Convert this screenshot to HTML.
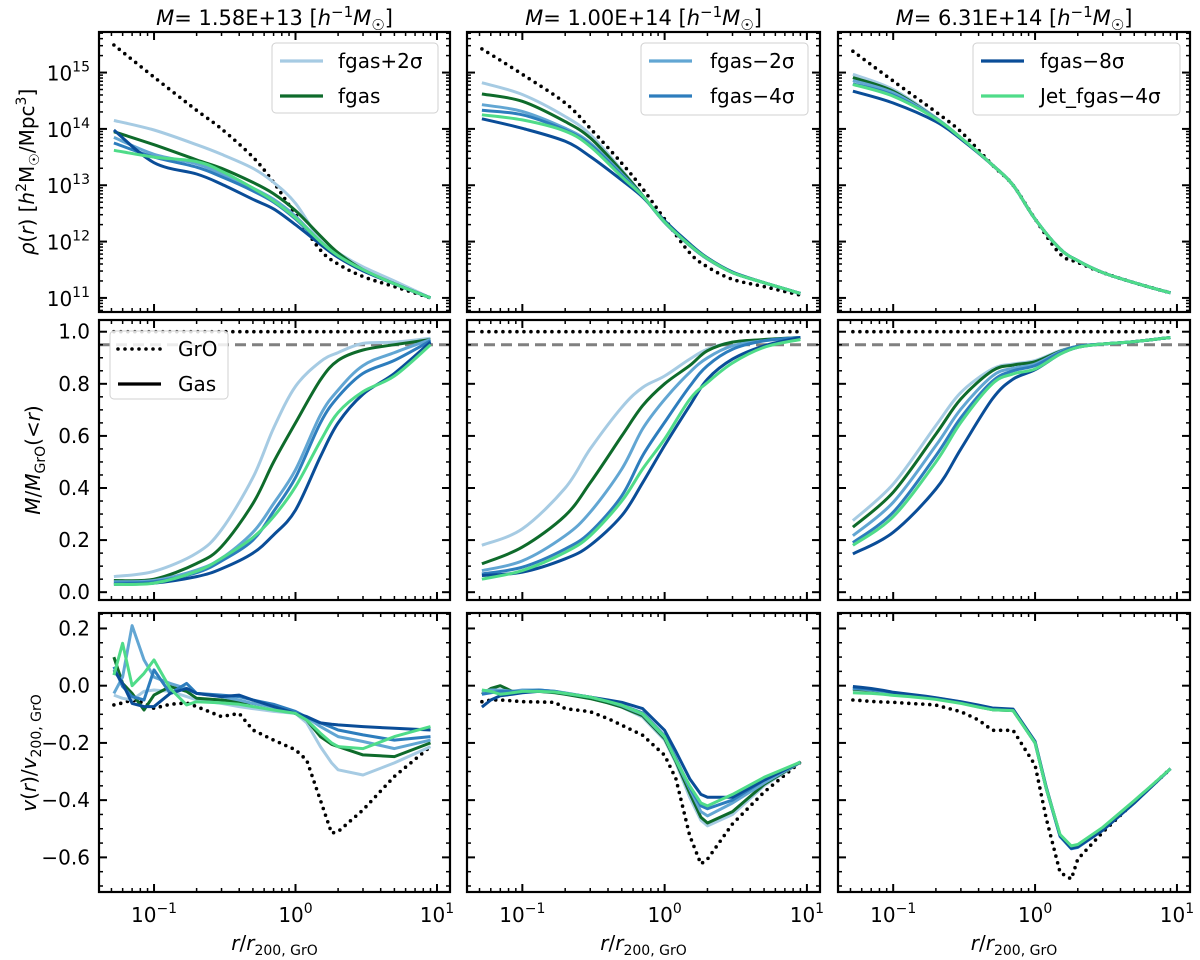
<!DOCTYPE html>
<html><head><meta charset="utf-8"><title>Profiles</title>
<style>
html,body{margin:0;padding:0;background:#fff;}
svg{display:block;font-family:"DejaVu Sans","Liberation Sans",sans-serif;}
</style></head>
<body>
<svg id="chart" width="1200" height="960" viewBox="0 0 1200 960" xmlns="http://www.w3.org/2000/svg"></svg>
<script>
// ---------- DATA ----------
const SERIES = ["fgas+2σ","fgas","fgas−2σ","fgas−4σ","fgas−8σ","Jet_fgas−4σ"];
const MASS_TITLES = ["1.58E+13","1.00E+14","6.31E+14"];
const R_SMOOTH = [0.052,0.1,0.2,0.3,0.5,0.7,1,1.5,2,3,5,9];
const R_VEL = [0.052,0.06,0.07,0.085,0.1,0.13,0.17,0.2,0.3,0.4,0.5,0.7,1,1.2,1.5,1.8,2,3,5,9];

// row 1: log10 density
const logRhoLow = [
 [14.15,13.98,13.72,13.55,13.3,13.05,12.68,12.02,11.8,11.55,11.3,11.0],
 [13.95,13.72,13.45,13.3,13.05,12.85,12.55,12.1,11.8,11.5,11.25,11.0],
 [13.85,13.55,13.38,13.2,12.95,12.75,12.45,12.0,11.75,11.5,11.25,11.0],
 [13.75,13.5,13.32,13.15,12.9,12.7,12.4,11.98,11.74,11.49,11.25,11.0],
 [13.98,13.4,13.2,13.02,12.75,12.58,12.3,11.95,11.72,11.48,11.25,11.0],
 [13.62,13.5,13.42,13.25,12.95,12.72,12.42,12.0,11.75,11.5,11.25,11.0]];
const logRhoLowGrO = [15.49,14.92,14.33,14.0,13.5,13.05,12.48,11.85,11.6,11.38,11.2,11.0];
const logRhoMid = [
 [14.82,14.61,14.22,13.9,13.27,12.82,12.34,11.93,11.69,11.45,11.27,11.08],
 [14.62,14.49,14.13,13.84,13.25,12.82,12.34,11.93,11.69,11.45,11.27,11.08],
 [14.43,14.31,14.01,13.75,13.2,12.81,12.34,11.93,11.69,11.45,11.27,11.08],
 [14.33,14.25,13.98,13.72,13.18,12.81,12.35,11.94,11.7,11.45,11.27,11.08],
 [14.18,14.01,13.78,13.51,13.09,12.79,12.37,11.96,11.71,11.46,11.27,11.08],
 [14.25,14.16,13.96,13.69,13.15,12.81,12.35,11.94,11.7,11.45,11.27,11.08]];
const logRhoMidGrO = [15.42,14.97,14.46,14.01,13.39,12.94,12.4,11.8,11.55,11.33,11.2,11.05];
const logRhoHigh = [
 [14.97,14.70,14.2,13.84,13.36,13.0,12.4,11.87,11.66,11.45,11.27,11.09],
 [14.91,14.67,14.19,13.84,13.36,13.0,12.4,11.87,11.66,11.45,11.27,11.09],
 [14.86,14.64,14.19,13.84,13.36,13.0,12.4,11.87,11.66,11.45,11.27,11.09],
 [14.8,14.6,14.18,13.84,13.36,13.0,12.4,11.87,11.66,11.45,11.27,11.09],
 [14.67,14.46,14.13,13.82,13.36,13.0,12.4,11.87,11.66,11.45,11.27,11.09],
 [14.79,14.58,14.18,13.84,13.36,13.0,12.4,11.87,11.66,11.45,11.27,11.09]];
const logRhoHighGrO = [15.38,14.85,14.3,13.95,13.36,13.0,12.4,11.78,11.63,11.45,11.27,11.09];

// row 2: enclosed mass fraction
const massLow = [
 [0.06,0.08,0.15,0.24,0.44,0.63,0.79,0.885,0.92,0.955,0.96,0.975],
 [0.045,0.05,0.11,0.175,0.34,0.50,0.65,0.815,0.89,0.93,0.95,0.97],
 [0.04,0.045,0.085,0.13,0.23,0.34,0.47,0.68,0.776,0.87,0.92,0.97],
 [0.035,0.04,0.075,0.12,0.20,0.31,0.44,0.65,0.75,0.84,0.89,0.965],
 [0.03,0.035,0.06,0.09,0.15,0.22,0.315,0.52,0.65,0.76,0.84,0.96],
 [0.03,0.035,0.08,0.13,0.21,0.29,0.405,0.58,0.69,0.77,0.83,0.95]];
const massMid = [
 [0.18,0.243,0.40,0.55,0.71,0.786,0.83,0.895,0.933,0.96,0.97,0.978],
 [0.109,0.173,0.294,0.42,0.60,0.716,0.80,0.87,0.927,0.96,0.97,0.978],
 [0.083,0.12,0.217,0.307,0.473,0.627,0.74,0.844,0.90,0.946,0.965,0.978],
 [0.07,0.096,0.166,0.23,0.37,0.524,0.652,0.79,0.87,0.933,0.965,0.978],
 [0.064,0.077,0.128,0.18,0.294,0.42,0.563,0.716,0.818,0.895,0.946,0.978],
 [0.05,0.083,0.153,0.217,0.35,0.473,0.588,0.74,0.805,0.88,0.94,0.97]];
const massHigh = [
 [0.275,0.415,0.64,0.767,0.857,0.876,0.889,0.927,0.944,0.953,0.962,0.978],
 [0.25,0.384,0.607,0.742,0.85,0.872,0.885,0.925,0.944,0.953,0.962,0.978],
 [0.217,0.345,0.563,0.703,0.83,0.86,0.876,0.923,0.944,0.953,0.962,0.978],
 [0.19,0.307,0.524,0.67,0.81,0.85,0.87,0.92,0.944,0.953,0.962,0.978],
 [0.147,0.23,0.396,0.55,0.742,0.818,0.854,0.914,0.94,0.953,0.962,0.978],
 [0.18,0.29,0.5,0.652,0.80,0.838,0.857,0.914,0.94,0.953,0.962,0.978]];
const massGrO = [1.0,1.0];
const massThreshold = 0.95;

// row 3: radial velocity
const velLow = [
 [-0.033,-0.044,-0.05,-0.02,-0.015,-0.02,-0.038,-0.05,-0.062,-0.073,-0.08,-0.09,-0.097,-0.13,-0.213,-0.27,-0.294,-0.312,-0.27,-0.213],
 [0.1,0.008,-0.027,-0.085,-0.033,-0.003,-0.02,-0.044,-0.05,-0.056,-0.062,-0.073,-0.097,-0.12,-0.178,-0.205,-0.213,-0.242,-0.248,-0.2],
 [-0.027,0.03,0.21,0.09,0.03,0.008,-0.01,-0.027,-0.038,-0.05,-0.062,-0.075,-0.097,-0.11,-0.143,-0.165,-0.178,-0.195,-0.22,-0.19],
 [0.066,-0.003,-0.038,-0.05,0.055,-0.027,0.008,-0.027,-0.033,-0.038,-0.05,-0.065,-0.09,-0.11,-0.13,-0.145,-0.155,-0.172,-0.19,-0.178],
 [0.055,0.008,-0.062,-0.073,-0.073,-0.027,-0.01,-0.027,-0.038,-0.033,-0.05,-0.073,-0.097,-0.108,-0.13,-0.135,-0.137,-0.143,-0.149,-0.155],
 [0.037,0.148,0.0,0.043,0.09,-0.01,-0.067,-0.056,-0.06,-0.065,-0.073,-0.085,-0.097,-0.12,-0.166,-0.2,-0.213,-0.22,-0.178,-0.143]];
const velLowGrO = [-0.067,-0.06,-0.05,-0.06,-0.079,-0.065,-0.06,-0.073,-0.108,-0.097,-0.155,-0.19,-0.224,-0.26,-0.4,-0.515,-0.51,-0.434,-0.317,-0.213];
const velMid = [
 [-0.02,-0.02,-0.015,-0.02,-0.02,-0.015,-0.02,-0.027,-0.04,-0.06,-0.075,-0.11,-0.19,-0.27,-0.39,-0.47,-0.49,-0.45,-0.35,-0.267],
 [-0.03,-0.01,0.0,-0.02,-0.02,-0.02,-0.025,-0.03,-0.045,-0.06,-0.075,-0.105,-0.185,-0.265,-0.375,-0.46,-0.48,-0.44,-0.345,-0.267],
 [-0.02,-0.015,-0.015,-0.02,-0.015,-0.015,-0.02,-0.025,-0.04,-0.055,-0.07,-0.1,-0.18,-0.26,-0.36,-0.44,-0.455,-0.41,-0.34,-0.267],
 [-0.03,-0.025,-0.02,-0.02,-0.02,-0.015,-0.02,-0.027,-0.04,-0.055,-0.068,-0.095,-0.175,-0.255,-0.355,-0.42,-0.43,-0.40,-0.33,-0.267],
 [-0.075,-0.05,-0.035,-0.03,-0.025,-0.02,-0.022,-0.027,-0.04,-0.05,-0.058,-0.08,-0.156,-0.23,-0.325,-0.38,-0.39,-0.39,-0.33,-0.267],
 [-0.015,-0.02,-0.03,-0.025,-0.02,-0.02,-0.022,-0.027,-0.04,-0.055,-0.068,-0.098,-0.178,-0.26,-0.35,-0.41,-0.42,-0.38,-0.32,-0.267]];
const velMidGrO = [-0.056,-0.05,-0.05,-0.053,-0.056,-0.057,-0.058,-0.08,-0.091,-0.115,-0.138,-0.173,-0.243,-0.325,-0.524,-0.623,-0.606,-0.483,-0.372,-0.267];
const velHigh = [
 [-0.015,-0.016,-0.018,-0.022,-0.028,-0.034,-0.04,-0.044,-0.058,-0.072,-0.082,-0.085,-0.2,-0.36,-0.524,-0.565,-0.56,-0.5,-0.407,-0.29],
 [-0.012,-0.014,-0.016,-0.021,-0.028,-0.034,-0.041,-0.045,-0.06,-0.074,-0.084,-0.087,-0.2,-0.36,-0.524,-0.565,-0.56,-0.5,-0.407,-0.29],
 [-0.01,-0.012,-0.015,-0.02,-0.027,-0.033,-0.04,-0.044,-0.058,-0.072,-0.082,-0.085,-0.2,-0.36,-0.527,-0.568,-0.562,-0.5,-0.407,-0.29],
 [-0.008,-0.01,-0.013,-0.018,-0.025,-0.032,-0.039,-0.043,-0.057,-0.071,-0.081,-0.084,-0.2,-0.36,-0.527,-0.57,-0.565,-0.505,-0.41,-0.29],
 [-0.003,-0.006,-0.01,-0.016,-0.023,-0.03,-0.037,-0.042,-0.056,-0.068,-0.078,-0.082,-0.195,-0.355,-0.524,-0.568,-0.563,-0.505,-0.41,-0.29],
 [-0.025,-0.026,-0.027,-0.03,-0.034,-0.038,-0.044,-0.048,-0.062,-0.075,-0.084,-0.087,-0.2,-0.36,-0.52,-0.56,-0.555,-0.495,-0.402,-0.29]];
const velHighGrO = [-0.05,-0.052,-0.055,-0.057,-0.058,-0.062,-0.065,-0.068,-0.091,-0.12,-0.156,-0.156,-0.278,-0.465,-0.653,-0.676,-0.606,-0.512,-0.407,-0.29];

const X_TICK_EXP = ["−1","0","1"];
const RHO_TICK_EXP = [11,12,13,14,15];
const MASS_TICKS = [0.0,0.2,0.4,0.6,0.8,1.0];
const VEL_TICKS = [0.2,0.0,-0.2,-0.4,-0.6];

// ---------- STYLE / LAYOUT ----------
const COLORS = ["#a6cbe3","#0e6b2b","#62a6d3","#2d7dbd","#0a4d98","#4fdc89"];
const DRAW_ORDER = [0,1,2,3,4,5];
const COLS = [{x0:99,x1:450},{x0:467,x1:820},{x0:838,x1:1190}];
const ROWS = [{y0:32,y1:312},{y0:320,y1:600},{y0:613,y1:892}];
const XLOG = [-1.389, 1.092];
const YDOM = [[10.75,15.72],[-0.03,1.045],[-0.721,0.254]];
const NS = "http://www.w3.org/2000/svg";
const svg = document.getElementById("chart");

function mk(tag, attrs, parent){
  const e = document.createElementNS(NS, tag);
  for (const k in attrs) e.setAttribute(k, attrs[k]);
  (parent||svg).appendChild(e);
  return e;
}
function xs(ci, r){ const c=COLS[ci]; return c.x0 + (Math.log10(r)-XLOG[0])/(XLOG[1]-XLOG[0])*(c.x1-c.x0); }
function ys(ri, v){ const r=ROWS[ri], d=YDOM[ri]; return r.y1 - (v-d[0])/(d[1]-d[0])*(r.y1-r.y0); }

function smoothPath(pts){
  let d = "M"+pts[0][0].toFixed(1)+","+pts[0][1].toFixed(1);
  for (let i=0;i<pts.length-1;i++){
    const p0=pts[Math.max(0,i-1)], p1=pts[i], p2=pts[i+1], p3=pts[Math.min(pts.length-1,i+2)];
    const c1=[p1[0]+(p2[0]-p0[0])/6, p1[1]+(p2[1]-p0[1])/6];
    const c2=[p2[0]-(p3[0]-p1[0])/6, p2[1]-(p3[1]-p1[1])/6];
    d += " C"+c1[0].toFixed(1)+","+c1[1].toFixed(1)+" "+c2[0].toFixed(1)+","+c2[1].toFixed(1)+" "+p2[0].toFixed(1)+","+p2[1].toFixed(1);
  }
  return d;
}
function linePath(pts){ return pts.map((p,i)=>(i?"L":"M")+p[0].toFixed(1)+","+p[1].toFixed(1)).join(" "); }

function drawSeries(g, ci, ri, R, vals, color, smooth, dotted, name){
  const pts = R.map((r,i)=>[xs(ci,r), ys(ri,vals[i])]);
  const attrs = {d: smooth?smoothPath(pts):linePath(pts), fill:"none", stroke:color, "stroke-width": dotted?3.6:3, "stroke-linejoin":"round"};
  if (dotted){ attrs["stroke-dasharray"]="0 7"; attrs["stroke-linecap"]="round"; }
  const p = mk("path", attrs, g);
  
  
}

function drawFrameAndTicks(ci, ri){
  const c=COLS[ci], r=ROWS[ri];
  const g = mk("g", {});
  
  
  for (let e=-2;e<=1;e++){
    for (let k=1;k<=9;k++){
      const v = Math.log10(k)+e;
      if (v<XLOG[0]||v>XLOG[1]) continue;
      const x = xs(ci, Math.pow(10,v)), L = k===1?8:4, w = k===1?2:1.5;
      mk("line",{x1:x,x2:x,y1:r.y1,y2:r.y1-L,stroke:"#000","stroke-width":w},g);
      mk("line",{x1:x,x2:x,y1:r.y0,y2:r.y0+L,stroke:"#000","stroke-width":w},g);
    }
  }
  const d=YDOM[ri];
  const yt=[];
  if (ri===0){
    for (let e=10;e<=15;e++) for (let k=1;k<=9;k++){ const v=Math.log10(k)+e; if(v>=d[0]&&v<=d[1]) yt.push([v,k===1]); }
  } else {
    for (let i=Math.ceil(d[0]/0.05);i*0.05<=d[1];i++){ yt.push([i*0.05, i%4===0]); }
  }
  yt.forEach(([v,maj])=>{
    const y=ys(ri,v), L=maj?8:4, w=maj?2:1.5;
    mk("line",{x1:c.x0,x2:c.x0+L,y1:y,y2:y,stroke:"#000","stroke-width":w},g);
    mk("line",{x1:c.x1,x2:c.x1-L,y1:y,y2:y,stroke:"#000","stroke-width":w},g);
  });
  mk("rect",{x:c.x0,y:r.y0,width:c.x1-c.x0,height:r.y1-r.y0,fill:"none",stroke:"#000","stroke-width":2.2},g);
}

const ROW_DATA = [
  [[logRhoLow,logRhoLowGrO],[logRhoMid,logRhoMidGrO],[logRhoHigh,logRhoHighGrO]],
  [[massLow,null],[massMid,null],[massHigh,null]],
  [[velLow,velLowGrO],[velMid,velMidGrO],[velHigh,velHighGrO]]];

for (let ri=0;ri<3;ri++){
  for (let ci=0;ci<3;ci++){
    const c=COLS[ci], r=ROWS[ri];
    const clipId="clip"+ri+ci;
    const cp = mk("clipPath",{id:clipId});
    mk("rect",{x:c.x0,y:r.y0,width:c.x1-c.x0,height:r.y1-r.y0},cp);
    const g = mk("g",{"clip-path":"url(#"+clipId+")"});
    
    
    const R = ri===2 ? R_VEL : R_SMOOTH;
    const [gas, gro] = ROW_DATA[ri][ci];
    if (ri===1){
      const xa=xs(ci,R_SMOOTH[0]), xb=xs(ci,R_SMOOTH[R_SMOOTH.length-1]);
      const dl = mk("line",{x1:xa,x2:xb,y1:ys(1,massGrO[0]),y2:ys(1,massGrO[1]),stroke:"#000","stroke-width":3.6,"stroke-dasharray":"0 7","stroke-linecap":"round"},g);
      
      
      const th = mk("line",{x1:c.x0,x2:c.x1,y1:ys(1,massThreshold),y2:ys(1,massThreshold),stroke:"#808080","stroke-width":3,"stroke-dasharray":"11 6"},g);
      
      
    }
    if (gro && ri!==1) drawSeries(g,ci,ri,R,gro,"#000",ri===0,true,"gro-line");
    DRAW_ORDER.forEach(si=>{
      drawSeries(g,ci,ri,R,gas[si],COLORS[si],ri!==2,false,"series-"+SERIES[si].replace(/[^A-Za-z0-9]+/g,'-').toLowerCase()+(si===0?'plus2':''));
    });
    drawFrameAndTicks(ci,ri);
  }
}

MASS_TITLES.forEach((m,ci)=>{
  const c=COLS[ci];
  const t = mk("text",{x:(c.x0+c.x1)/2,y:25,"text-anchor":"middle","font-size":21});
  
  
  t.innerHTML = '<tspan font-style="italic">M</tspan>= '+m+' [<tspan font-style="italic">h</tspan><tspan dy="-8" font-size="15">−1</tspan><tspan dy="8" font-style="italic">M</tspan><tspan dy="5" font-size="15">☉</tspan><tspan dy="-5">]</tspan>';
});

RHO_TICK_EXP.forEach(e=>{
  const t = mk("text",{x:90,y:ys(0,e)+8,"text-anchor":"end","font-size":20});
  
  
  t.innerHTML = '10<tspan dy="-9" font-size="14">'+e+'</tspan>';
});
MASS_TICKS.forEach(v=>{
  const t = mk("text",{x:90,y:ys(1,v)+7,"text-anchor":"end","font-size":20});
  
  
  t.textContent = v.toFixed(1);
});
VEL_TICKS.forEach(v=>{
  const t = mk("text",{x:90,y:ys(2,v)+7,"text-anchor":"end","font-size":20});
  
  
  t.textContent = (v<0?"−":"")+Math.abs(v).toFixed(1);
});

for (let ci=0;ci<3;ci++){
  X_TICK_EXP.forEach((e,i)=>{
    const x = xs(ci, Math.pow(10,i-1));
    const t = mk("text",{x:x,y:922,"text-anchor":"middle","font-size":20});
    
    
    t.innerHTML = '10<tspan dy="-9" font-size="14">'+e+'</tspan>';
  });
  const c=COLS[ci];
  const xl = mk("text",{x:(c.x0+c.x1)/2,y:950,"text-anchor":"middle","font-size":20});
  
  
  xl.innerHTML = '<tspan font-style="italic">r</tspan>/<tspan font-style="italic">r</tspan><tspan dy="5" font-size="14">200, GrO</tspan>';
}

function yTitle(x,y,html,name){
  const t = mk("text",{x:0,y:0,"text-anchor":"middle","font-size":20,transform:"translate("+x+","+y+") rotate(-90)"});
  
  
  t.innerHTML = html;
}
yTitle(34,172,'<tspan font-style="italic">ρ</tspan>(<tspan font-style="italic">r</tspan>) [<tspan font-style="italic">h</tspan><tspan dy="-8" font-size="14">2</tspan><tspan dy="8">M</tspan><tspan dy="5" font-size="14">☉</tspan><tspan dy="-5">/Mpc</tspan><tspan dy="-8" font-size="14">3</tspan><tspan dy="8">]</tspan>','y-axis-title-density');
yTitle(40,460,'<tspan font-style="italic">M</tspan>/<tspan font-style="italic">M</tspan><tspan dy="5" font-size="14">GrO</tspan><tspan dy="-5">(&lt;</tspan><tspan font-style="italic">r</tspan>)','y-axis-title-mass');
yTitle(36,753,'<tspan font-style="italic">v</tspan>(<tspan font-style="italic">r</tspan>)/<tspan font-style="italic">v</tspan><tspan dy="5" font-size="14">200, GrO</tspan>','y-axis-title-velocity');

function legend(x0,y0,w,h,entries,name){
  const g = mk("g",{});
  
  
  mk("rect",{x:x0,y:y0,width:w,height:h,rx:4,fill:"#fff","fill-opacity":0.85,stroke:"#d0d0d0","stroke-width":1},g);
  entries.forEach((en,i)=>{
    const y = y0+18+i*35;
    const ln = mk("line",{x1:x0+8,x2:x0+51,y1:y,y2:y,stroke:en.color,"stroke-width":en.dotted?3.6:3.2},g);
    if (en.dotted){ ln.setAttribute("stroke-dasharray","0 7"); ln.setAttribute("stroke-linecap","round"); }
    
    
    const t = mk("text",{x:x0+en.tx,y:y+7,"font-size":20},g);
    
    
    t.textContent = en.label;
  });
}
legend(272,43,166,70,[{label:"fgas+2σ",color:COLORS[0],tx:66},{label:"fgas",color:COLORS[1],tx:66}],"legend-low-mass");
legend(641,43,167,72,[{label:"fgas−2σ",color:COLORS[2],tx:69},{label:"fgas−4σ",color:COLORS[3],tx:69}],"legend-mid-mass");
legend(973,43,207,72,[{label:"fgas−8σ",color:COLORS[4],tx:67},{label:"Jet_fgas−4σ",color:COLORS[5],tx:67}],"legend-high-mass");
legend(110,331,118,68,[{label:"GrO",color:"#000",dotted:true,tx:68},{label:"Gas",color:"#000",tx:68}],"legend-line-style");
</script>
</body></html>
